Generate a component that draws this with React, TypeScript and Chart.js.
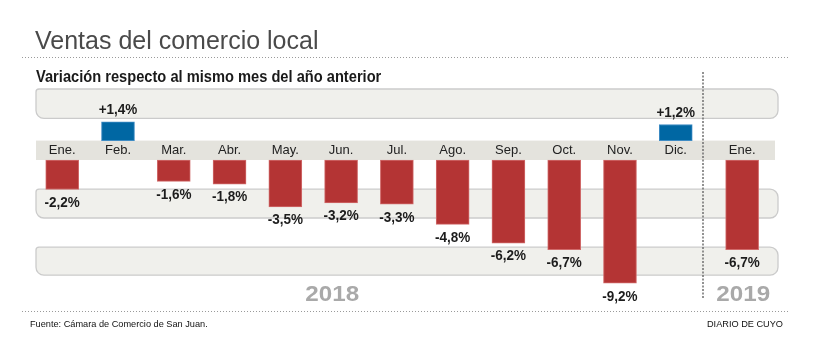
import { useEffect, useRef } from 'react';
import { Chart, registerables } from 'chart.js';

Chart.register(...registerables);

// ---- Data ----
const months2018 = ['Ene.', 'Feb.', 'Mar.', 'Abr.', 'May.', 'Jun.', 'Jul.', 'Ago.', 'Sep.', 'Oct.', 'Nov.', 'Dic.'];
const values2018 = [-2.2, 1.4, -1.6, -1.8, -3.5, -3.2, -3.3, -4.8, -6.2, -6.7, -9.2, 1.2];
const months2019 = ['Ene.'];
const values2019 = [-6.7];
const yearLabels = ['2018', '2019'];

const titleText = 'Ventas del comercio local';
const subtitleText = 'Variación respecto al mismo mes del año anterior';
const sourceText = 'Fuente: Cámara de Comercio de San Juan.';
const creditText = 'DIARIO DE CUYO';

// ---- Layout / style constants ----
const LABEL_GAP = 1.45; // value-axis room for the month label strip
const YEAR_GAP = 0.19; // extra spacing between years
const YEAR_LABEL_X = [4.84, 12.21];
const FONT = '"Liberation Sans", Arial, Helvetica, sans-serif';

const categories = [...months2018, ...months2019];
const values = [...values2018, ...values2019];
const xPositions = categories.map((_, i) => (i < months2018.length ? i : i + YEAR_GAP));

const fmt = (v: number) => (v > 0 ? '+' : '') + v.toFixed(1).replace('.', ',') + '%';
const shift = (v: number) => (v >= 0 ? v : v - LABEL_GAP);

const BANDS: [number, number][] = [
  [3.85, 1.65],
  [-2.17, -4.33],
  [-6.5, -8.6],
];

const decorPlugin = {
  id: 'decor',
  beforeDatasetsDraw(chart: any) {
    const { ctx, chartArea: ca, scales } = chart;
    const y = scales.y;
    const x = scales.x;
    ctx.save();
    // bands
    for (const [a, b] of BANDS) {
      const top = y.getPixelForValue(shift(a));
      const bottom = y.getPixelForValue(shift(b));
      ctx.beginPath();
      ctx.roundRect(ca.left, top, ca.right - ca.left, bottom - top, [3, 8, 8, 8]);
      ctx.fillStyle = '#f0f0ec';
      ctx.fill();
      ctx.lineWidth = 1.3;
      ctx.strokeStyle = '#cbcbcb';
      ctx.stroke();
    }
    // month label strip
    const sTop = y.getPixelForValue(0);
    const sBottom = y.getPixelForValue(-LABEL_GAP);
    ctx.fillStyle = '#e4e3dd';
    ctx.fillRect(ca.left, sTop, ca.right - ca.left - 3, sBottom - sTop);
    ctx.fillStyle = '#222';
    ctx.font = `13px ${FONT}`;
    ctx.textAlign = 'center';
    ctx.textBaseline = 'middle';
    categories.forEach((c, i) => {
      ctx.fillText(c, x.getPixelForValue(xPositions[i]), (sTop + sBottom) / 2 + 0.5);
    });
    ctx.restore();
  },
  afterDatasetsDraw(chart: any) {
    const { ctx, scales } = chart;
    const meta = chart.getDatasetMeta(0);
    ctx.save();
    ctx.fillStyle = '#1c1c1c';
    ctx.font = `bold 15px ${FONT}`;
    ctx.textAlign = 'center';
    ctx.textBaseline = 'alphabetic';
    meta.data.forEach((el: any, i: number) => {
      const v = values[i];
      const by = v >= 0 ? el.y - 7.5 : el.y + 17.3;
      ctx.save();
      ctx.translate(el.x, by);
      ctx.scale(0.9, 1);
      ctx.fillText(fmt(v), 0, 0);
      ctx.restore();
    });
    // year labels
    ctx.fillStyle = '#a9a9a9';
    ctx.font = `bold 22px ${FONT}`;
    yearLabels.forEach((t, i) => {
      ctx.save();
      ctx.translate(scales.x.getPixelForValue(YEAR_LABEL_X[i]), 300.5);
      ctx.scale(1.1, 1);
      ctx.fillText(t, 0, 0);
      ctx.restore();
    });
    ctx.restore();
  },
  afterDraw(chart: any) {
    const { ctx } = chart;
    ctx.save();
    // horizontal dotted rules
    ctx.strokeStyle = '#9a9a9a';
    ctx.lineWidth = 1;
    ctx.setLineDash([1, 2]);
    for (const yy of [57.5, 311.5]) {
      ctx.beginPath();
      ctx.moveTo(22, yy);
      ctx.lineTo(790, yy);
      ctx.stroke();
    }
    // vertical year divider
    ctx.strokeStyle = '#6f6f6f';
    ctx.lineWidth = 1.5;
    ctx.setLineDash([2, 1.5]);
    ctx.beginPath();
    ctx.moveTo(703, 72);
    ctx.lineTo(703, 298);
    ctx.stroke();
    ctx.restore();
  },
};

export default function App() {
  const canvasRef = useRef<HTMLCanvasElement | null>(null);

  useEffect(() => {
    if (!canvasRef.current) return;
    const chart = new Chart(canvasRef.current, {
      type: 'bar',
      data: {
        datasets: [
          {
            data: xPositions.map((x, i) => ({
              x,
              y: values[i] >= 0 ? [0, values[i]] : [-LABEL_GAP, values[i] - LABEL_GAP],
            })) as any,
            barThickness: 33,
            backgroundColor: (c: any) => (values[c.dataIndex] >= 0 ? '#0067a3' : '#b43434'),
            borderColor: (c: any) => (values[c.dataIndex] >= 0 ? '#3f8cc4' : '#d06a6a'),
            borderWidth: 1,
            borderSkipped: false,
          },
        ],
      },
      options: {
        responsive: false,
        animation: false,
        layout: { padding: { left: 36, right: 41, top: 89, bottom: 58 } },
        plugins: { legend: { display: false }, tooltip: { enabled: false } },
        scales: {
          x: { type: 'linear', display: false, min: -0.47, max: 12.833, offset: false },
          y: { display: false, min: -11.9, max: 3.85 },
        },
      },
      plugins: [decorPlugin],
    });
    return () => chart.destroy();
  }, []);

  const txt = (fs: number, baseline: number) => ({
    position: 'absolute' as const,
    top: baseline - 0.8465 * fs,
    fontSize: fs,
    lineHeight: `${fs}px`,
    fontFamily: FONT,
    whiteSpace: 'nowrap' as const,
  });

  return (
    <div style={{ position: 'absolute', left: 0, top: 0, width: 819, height: 358, background: '#fff', overflow: 'hidden' }}>
      <canvas ref={canvasRef} width={819} height={358} style={{ display: 'block' }} />
      <div style={{ ...txt(25, 49), left: 35, color: '#4a4a4a' }}>{titleText}</div>
      <div
        style={{
          ...txt(17, 82.7),
          left: 36,
          color: '#1a1a1a',
          fontWeight: 'bold',
          transform: 'scaleX(0.862)',
          transformOrigin: 'left center',
        }}
      >
        {subtitleText}
      </div>
      <div style={{ ...txt(9.2, 327.3), left: 30, color: '#111' }}>{sourceText}</div>
      <div style={{ ...txt(9.2, 327.3), right: 36, color: '#111' }}>{creditText}</div>
    </div>
  );
}
